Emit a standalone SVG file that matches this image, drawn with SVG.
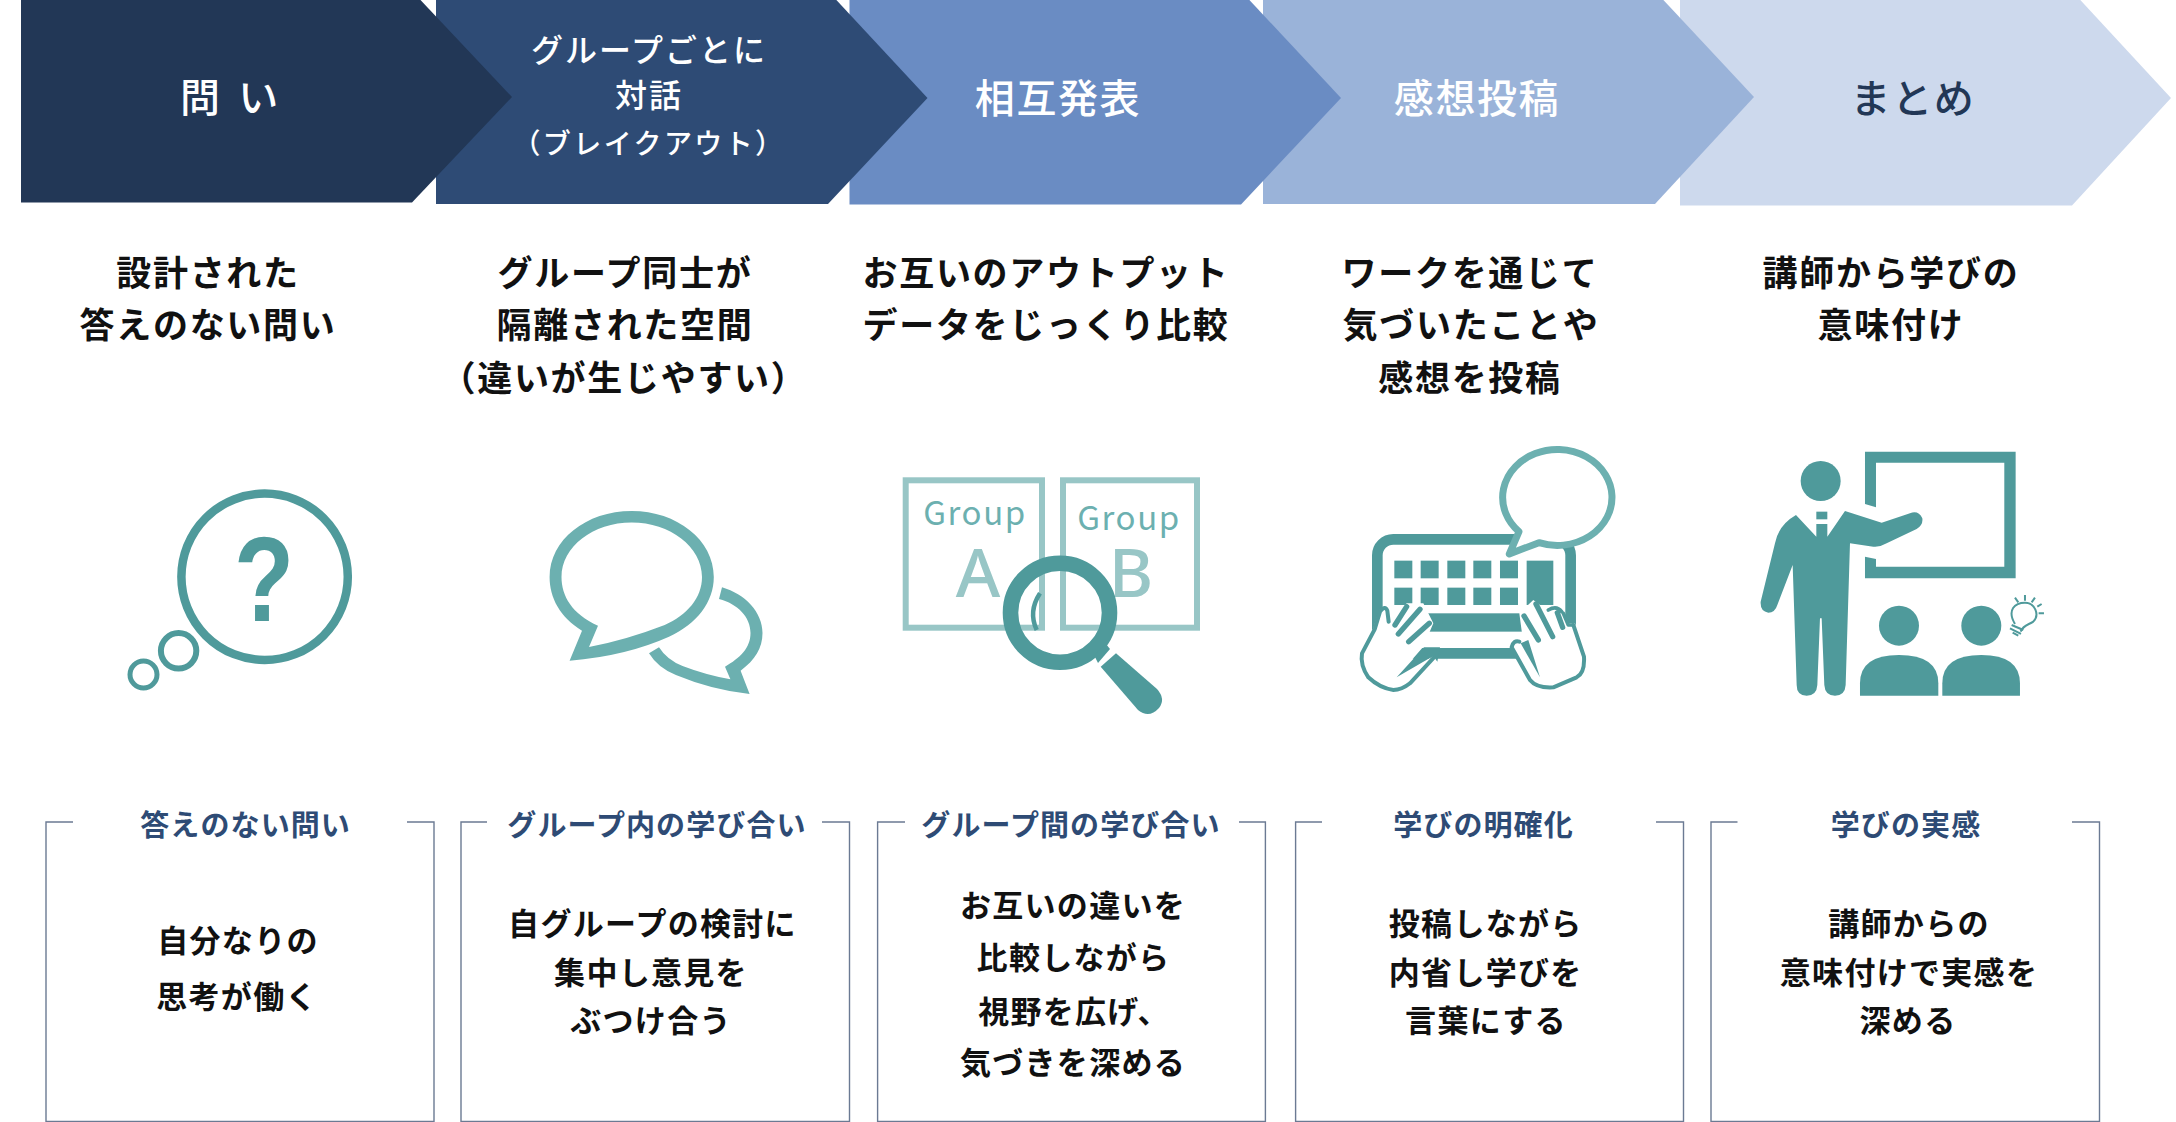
<svg xmlns="http://www.w3.org/2000/svg" width="2176" height="1122" viewBox="0 0 2176 1122">
<style>
text{font-family:"Noto Sans CJK JP","Noto Sans",sans-serif;font-weight:700;text-anchor:middle}
.h{font-size:40px;letter-spacing:1.6px;fill:#fff;font-weight:500}
.h2{font-size:32px;letter-spacing:2px;fill:#fff;font-weight:500}
.h3{font-size:28px;letter-spacing:2.4px;fill:#fff;font-weight:500}
.d{font-size:35px;letter-spacing:1.7px;fill:#111}
.t{font-size:29px;letter-spacing:1.1px;fill:#2e4b75}
.b{font-size:31px;letter-spacing:1.3px;fill:#111}
.box{fill:none;stroke:#6b7a93;stroke-width:1.4}
.tk{fill:#4f9a9b}
.tm{fill:#6cb0b0}
.tl{fill:none;stroke:#98c6c6;stroke-width:6}
.ln{fill:none;stroke:#4f9a9b;stroke-linecap:round;stroke-linejoin:round}
.grp{font-family:"Noto Sans CJK JP",sans-serif;font-weight:400;font-size:33px;letter-spacing:1.6px;fill:#6cb0b0}
.let{font-family:"Noto Sans",sans-serif;font-weight:500;font-size:68px;fill:#98c6c6}
</style>
<rect width="2176" height="1122" fill="#fff"/>
<g id="step5"><polygon points="1680,-9 2072,-9 2171,98 2072,205.5 1680,205.5" fill="#cdd9ed"/><text class="h" x="1913" y="113" style="fill:#223756">まとめ</text></g>
<g id="step4"><polygon points="1263,-9 1655,-9 1754,97 1655,204 1263,204" fill="#9ab3d9"/><text class="h" x="1477" y="113">感想投稿</text></g>
<g id="step3"><polygon points="849.5,-9 1241,-9 1341,98 1241,204.5 849.5,204.5" fill="#6a8cc3"/><text class="h" x="1058" y="113">相互発表</text></g>
<g id="step2"><polygon points="436,-9 828,-9 927.5,98 828,204 436,204" fill="#2e4b75"/><text class="h2" x="649" y="62">グループごとに</text><text class="h2" x="649" y="107">対話</text><text class="h3" x="649" y="154">（ブレイクアウト）</text></g>
<g id="step1"><polygon points="21,-9 412,-9 512,97 412,202.5 21,202.5" fill="#223756"/><text class="h" x="230" y="112" style="word-spacing:6px">問 い</text></g>

<g id="desc1"><text class="d" x="208" y="286">設計された</text><text class="d" x="208" y="338">答えのない問い</text></g>
<g id="desc2"><text class="d" x="625" y="286">グループ同士が</text><text class="d" x="625" y="338">隔離された空間</text><text class="d" x="624" y="391">（違いが生じやすい）</text></g>
<g id="desc3"><text class="d" x="1046" y="286">お互いのアウトプット</text><text class="d" x="1046" y="338">データをじっくり比較</text></g>
<g id="desc4"><text class="d" x="1470" y="286">ワークを通じて</text><text class="d" x="1471" y="338">気づいたことや</text><text class="d" x="1470" y="391">感想を投稿</text></g>
<g id="desc5"><text class="d" x="1891" y="286">講師から学びの</text><text class="d" x="1891" y="338">意味付け</text></g>

<g id="icon-question">
<circle cx="264.6" cy="576.8" r="83.2" fill="none" stroke="#4f9a9b" stroke-width="8.5"/>
<circle cx="178.6" cy="650.8" r="17.7" fill="none" stroke="#4f9a9b" stroke-width="6"/>
<circle cx="143.5" cy="674.5" r="13.5" fill="none" stroke="#4f9a9b" stroke-width="5"/>
<text transform="translate(264 620.5) scale(.82 1)" style="font-family:'Liberation Sans',sans-serif;font-weight:700;font-size:120px;fill:#4f9a9b">?</text>
</g>
<g id="icon-chat" class="tm">
<path fill-rule="evenodd" d="M569.6,660.7 L582,630.7 C560,617 549.6,598 549.6,577 C549.6,540 586,511 631.7,511 C677,511 713.8,540 713.8,577 C713.8,602 697,624 669,636.7 Q626,656 569.6,660.7Z M589,647 Q626,640 664.7,625 C687,615 702,598 702,577 C702,547 670,522.5 631.7,522.5 C593,522.5 561.5,547 561.5,577 C561.5,596 572,614 598,625.7Z"/>
<path d="M722,587.3 C745,594 762.5,612 762.5,633 C762.5,648 755,660 740.6,670.7 L749.6,694 Q712,690 675.9,675 Q658,668 649,653.3 L659,647.3 Q667,660 682.6,666 Q706,675 730.4,679.3 L725,666.7 C740,658 750.5,648 750.5,633 C750.5,617 738,604 719,599Z"/>
</g>
<g id="icon-compare">
<rect class="tl" x="905.7" y="480.3" width="136.3" height="147.4"/>
<rect class="tl" x="1063" y="480.3" width="134" height="147.4"/>
<text class="grp" x="975" y="525">Group</text>
<text class="grp" x="1129" y="530">Group</text>
<text class="let" x="978" y="597">A</text>
<text class="let" x="1131" y="597">B</text>
<circle cx="1060" cy="612.8" r="49.5" fill="none" stroke="#4f9a9b" stroke-width="15.6"/>
<path d="M1040,593.3 Q1028,611.6 1036.7,630" fill="none" stroke="#4f9a9b" stroke-width="4.5"/>
<polygon class="tk" points="1094,655 1106,644 1110,649 1098,663"/>
<path class="tk" d="M1100.7,666.7 L1116,653.3 L1157,689 Q1166,699 1159,708 Q1149,719 1138,710Z"/>
</g>
<g id="icon-keyboard" transform="translate(1340 430) scale(.3333)">
<rect x="112" y="328" width="580" height="342" rx="48" fill="none" stroke="#4f9a9b" stroke-width="32"/>
<g class="tk">
<rect x="163" y="392" width="54" height="53"/><rect x="242" y="392" width="54" height="53"/><rect x="322" y="392" width="54" height="53"/><rect x="400" y="392" width="54" height="53"/><rect x="480" y="392" width="54" height="53"/>
<rect x="163" y="473" width="54" height="52"/><rect x="242" y="473" width="54" height="52"/><rect x="322" y="473" width="54" height="52"/><rect x="400" y="473" width="54" height="52"/><rect x="480" y="473" width="54" height="52"/>
<rect x="560" y="392" width="80" height="133"/>
<rect x="250" y="550" width="300" height="55"/>
</g>
<path d="M537,305 L508,372 L597,338 A164,144 0 1 0 537,305Z" fill="#fff" stroke="#6cb0b0" stroke-width="21" stroke-linejoin="round"/>
<g transform="translate(60 480)">
<path d="M0,190 L40,115 L58,60 L75,48 L88,85 L140,40 L190,40 L205,70 L220,100 L190,170 L110,262 L225,195 L232,215 L150,285 L100,305 L25,265Z" fill="#fff"/>
<path class="ln" stroke-width="12" d="M224,200 L150,280 Q125,300 100,300 Q60,295 25,262 Q0,225 6,190 L44,118 L60,65 Q75,45 82,62 L86,95"/>
<path class="ln" stroke-width="16" d="M105,105 L140,50M115,132 L180,58M146,155 L208,100"/>
<path class="tk" d="M192,172 L110,262 L220,198 L232,215 L240,172Z"/>
<path d="M450,170 L470,148 L490,160 L478,70 L520,30 L560,60 L600,50 L625,100 L645,100 L678,200 L655,265 L560,300 L510,280Z" fill="#fff"/>
<path class="ln" stroke-width="12" d="M640,105 L672,200 Q675,250 650,262 L580,292 Q530,295 510,270 L455,172 Q460,150 478,155"/>
<path class="tk" d="M482,160 L540,262 L505,150Z"/>
<path class="ln" stroke-width="16" d="M492,78 L535,150M528,42 L578,140M592,68 L608,112"/>
<path class="ln" stroke-width="11" d="M565,60 Q590,45 605,65M610,70 L625,105 L640,105"/>
</g>
</g>
<g id="icon-teacher" transform="translate(1740 430) scale(.3333)" class="tk">
<path d="M375,65 H827 V445 H375 V380 L408,387 V410 H793 V98 H408 V232 L375,222Z"/>
<circle cx="242" cy="153" r="60"/>
<rect x="229" y="245" width="33" height="23"/>
<path d="M168,255 Q115,285 105,340 L62,515 Q60,545 85,548 Q105,548 112,525 L158,405 L170,765 Q170,797 200,797 Q230,797 232,765 L240,565 L245,565 L253,765 Q255,797 285,797 Q315,797 317,765 L330,340 L400,350 Q420,352 440,340 L530,297 Q550,285 547,265 Q535,240 510,250 L425,278 L315,243 L262,320 L262,282 L229,282 L229,320Z"/>
<circle cx="477" cy="587" r="60"/><circle cx="724" cy="587" r="60"/>
<path d="M360,797 V760 Q360,675 477,675 Q595,675 595,760 V797Z"/>
<path d="M607,797 V760 Q607,675 724,675 Q840,675 840,760 V797Z"/>
<g fill="none" stroke="#4f9a9b" stroke-width="6">
<path d="M825,582 C800,540 825,518 855,518 C885,518 900,555 880,575 C865,585 850,585 842,605"/>
<path d="M825,503 L835,517M855,495 V512M885,503 L875,517M905,522 L892,530M912,550 H896"/>
<path d="M815,585 L850,600M810,595 L843,612M818,608 L835,617"/>
</g>
</g>

<g id="card1"><path class="box" d="M73,822 H46 V1121.5 H434 V822 H407"/><text class="t" x="245.6" y="836">答えのない問い</text><text class="b" x="238" y="952">自分なりの</text><text class="b" x="237" y="1008">思考が働く</text></g>
<g id="card2"><path class="box" d="M487,822 H461 V1121.5 H849.5 V822 H822"/><text class="t" x="657" y="836">グループ内の学び合い</text><text class="b" x="652.5" y="935">自グループの検討に</text><text class="b" x="651" y="984">集中し意見を</text><text class="b" x="651" y="1032">ぶつけ合う</text></g>
<g id="card3"><path class="box" d="M905,822 H877.6 V1121.5 H1265.4 V822 H1239"/><text class="t" x="1071" y="836">グループ間の学び合い</text><text class="b" x="1073" y="917">お互いの違いを</text><text class="b" x="1073.5" y="969">比較しながら</text><text class="b" x="1074" y="1023">視野を広げ、</text><text class="b" x="1073" y="1074">気づきを深める</text></g>
<g id="card4"><path class="box" d="M1322,822 H1295.6 V1121.5 H1683.5 V822 H1656"/><text class="t" x="1483.5" y="836">学びの明確化</text><text class="b" x="1485.7" y="935">投稿しながら</text><text class="b" x="1485.7" y="984">内省し学びを</text><text class="b" x="1486" y="1032">言葉にする</text></g>
<g id="card5"><path class="box" d="M1737.5,822 H1711 V1121.5 H2099.5 V822 H2072"/><text class="t" x="1906" y="836">学びの実感</text><text class="b" x="1909" y="935">講師からの</text><text class="b" x="1909" y="984">意味付けで実感を</text><text class="b" x="1908" y="1032">深める</text></g>
</svg>
